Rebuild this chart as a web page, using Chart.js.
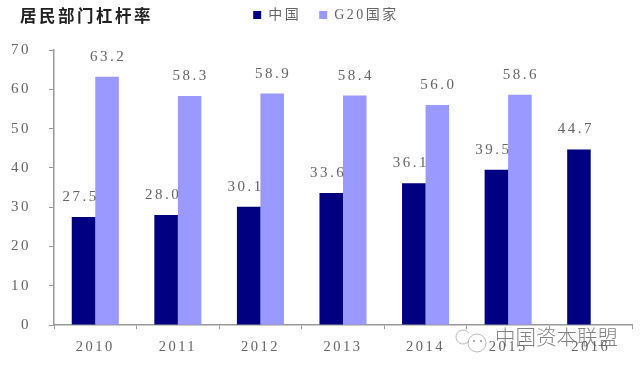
<!DOCTYPE html>
<html><head><meta charset="utf-8">
<style>html,body{margin:0;padding:0;background:#fff}#w{width:640px;height:371px}canvas{filter:blur(.45px)}</style>
<script src="https://cdn.jsdelivr.net/npm/chart.js@4"></script></head>
<body><div id="w"><canvas id="c" width="640" height="371"></canvas></div>
<script>
const categories=['2010','2011','2012','2013','2014','2015','2016'];
const china=[27.5,28.0,30.1,33.6,36.1,39.5,44.7];
const g20=[63.2,58.3,58.9,58.4,56.0,58.6,null];
const yTicks=[0,10,20,30,40,50,60,70];
const titleText='居民部门杠杆率';
const seriesNames=['中国','G20国家'];
const watermark='中国资本联盟';
const numFont='"Liberation Serif",serif';
const cjk='"Noto Sans CJK SC",sans-serif';
const decor={id:'decor',
 beforeLayout(ch){ch.ctx.letterSpacing='2.5px';},
 beforeDraw(ch){ch.ctx.letterSpacing='2.5px';ch.scales.y.left=0;},
 afterDatasetsDraw(ch){
  const c=ch.ctx;c.save();
  c.font='15px '+numFont;c.fillStyle='#666';c.textAlign='center';c.textBaseline='middle';c.letterSpacing='2.5px';
  ch.data.datasets.forEach((d,i)=>{
   const m=ch.getDatasetMeta(i);
   d.data.forEach((v,j)=>{ if(v==null)return;
    const shift=i===0?-3:1;
    c.fillText(v.toFixed(1),m.data[j].x+shift,ch.scales.y.getPixelForValue(v)-20);
   });
  });
  c.restore();
 },
 afterDraw(ch){
  const c=ch.ctx;c.save();c.letterSpacing='0px';
  c.fillStyle='rgba(90,90,90,.75)';c.font='300 20.5px '+cjk;c.textAlign='left';c.textBaseline='middle';
  c.fillText(watermark,495,337);
  c.strokeStyle='rgba(120,120,120,.5)';c.lineWidth=1;
  c.beginPath();c.arc(463,337,7,0.6,Math.PI*2-0.6);c.stroke();
  c.beginPath();c.arc(477,343,9,0,Math.PI*2);c.stroke();
  c.fillStyle='rgba(120,120,120,.6)';
  c.fillRect(473,340,2,2);c.fillRect(480,340,2,2);
  c.restore();
 }};
new Chart(document.getElementById('c'),{
 type:'bar',
 data:{labels:categories,datasets:[
  {label:seriesNames[0],data:china,backgroundColor:'#000080',xAxisID:'x',barPercentage:1,categoryPercentage:.57},
  {label:seriesNames[1],data:g20,backgroundColor:'#9999ff',xAxisID:'x',barPercentage:1,categoryPercentage:.57}]},
 plugins:[decor],
 options:{responsive:false,animation:false,
  layout:{padding:{left:20,right:8,top:-10,bottom:6.5}},
  plugins:{
   title:{display:true,text:titleText,align:'start',color:'#222',font:{family:cjk,size:16.5,weight:'bold'},padding:{top:16,bottom:-35.8}},
   legend:{display:true,position:'top',align:'center',
    labels:{boxWidth:8,boxHeight:8,padding:18,color:'#666',font:{family:numFont+','+cjk,size:14}}},
   tooltip:{enabled:false}},
  scales:{
   x:{offset:true,grid:{display:true,drawOnChartArea:false,color:'#999',tickLength:4,tickColor:'#999'},border:{color:'#999',width:1.5},
      ticks:{color:'#666',padding:9,maxRotation:0,font:{family:numFont,size:14.5}}},
   topGap:{type:'category',axis:'x',position:'top',labels:[''],grid:{display:false},border:{display:false},ticks:{display:false},afterFit(s){s.height=18;}},
   y:{min:0,max:70,afterBuildTicks(s){s.ticks=yTicks.map(v=>({value:v}));},afterFit(s){s.width=34;},
      grid:{display:true,drawOnChartArea:false,color:'#999',tickLength:5,tickColor:'#999'},border:{color:'#999',width:1.5},
      ticks:{color:'#666',padding:18,font:{family:numFont,size:15}}}
  }}
});
</script></body></html>
